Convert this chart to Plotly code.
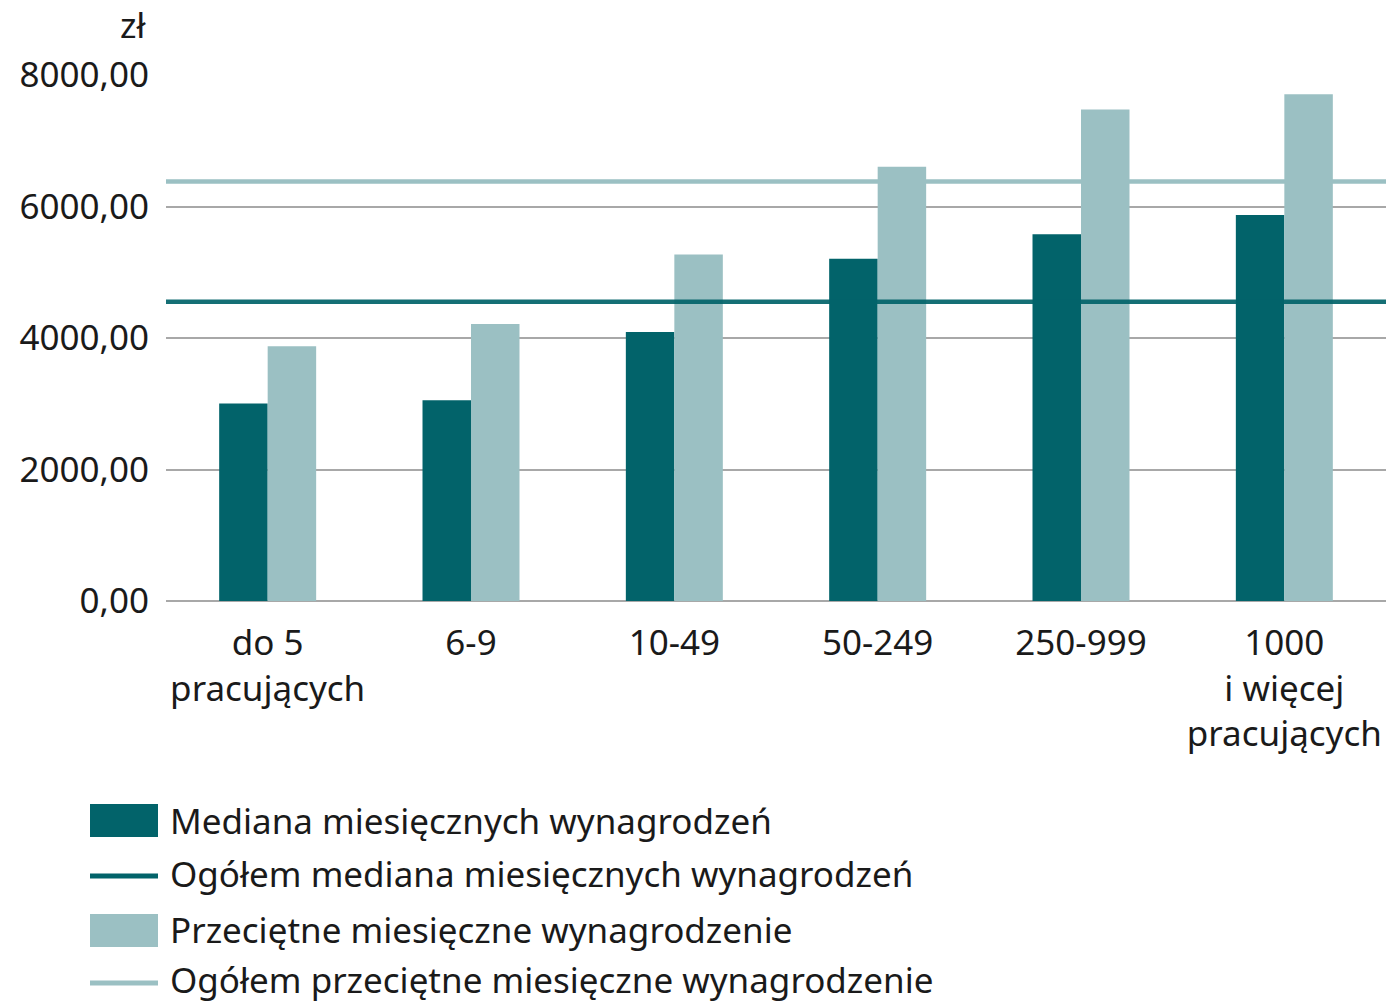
import plotly.graph_objects as go

# Wynagrodzenia według wielkości przedsiębiorstwa (zł)
categories = ["do 5<br>pracujących", "6-9", "10-49", "50-249", "250-999",
              "1000<br>i więcej<br>pracujących"]
median_values = [3003, 3053, 4091, 5205, 5579, 5872]
average_values = [3876, 4213, 5271, 6603, 7477, 7707]
median_total = 4552
average_total = 6382

series_names = [
    "Mediana miesięcznych wynagrodzeń",
    "Ogółem mediana miesięcznych wynagrodzeń",
    "Przeciętne miesięczne wynagrodzenie",
    "Ogółem przeciętne miesięczne wynagrodzenie",
]
y_ticks = [0, 2000, 4000, 6000, 8000]
y_tick_labels = ["0,00", "2000,00", "4000,00", "6000,00", "8000,00"]

DARK = "#02636a"
LIGHT = "#9bc0c3"
GRID = "#a8a8a8"
FONT = "Noto Sans"
FS = 35

W, H = 1386, 1002
M_L, M_R, M_T, M_B = 166, 0, 75, 401
PLOT_W = W - M_L - M_R
PLOT_H = H - M_T - M_B


def px(x):
    return (x - M_L) / PLOT_W


def py(y):
    return (H - M_B - y) / PLOT_H


fig = go.Figure()

# Overall reference lines span the full plot width on a hidden helper axis
fig.add_trace(go.Scatter(
    x=[0, 1], y=[average_total, average_total], xaxis="x2", mode="lines",
    line=dict(color=LIGHT, width=4.5), showlegend=False, hoverinfo="skip"))

fig.add_trace(go.Bar(x=categories, y=median_values, name=series_names[0],
                     marker=dict(color=DARK, line=dict(width=0))))
fig.add_trace(go.Bar(x=categories, y=average_values, name=series_names[2],
                     marker=dict(color=LIGHT, line=dict(width=0))))

fig.add_trace(go.Scatter(
    x=[0, 1], y=[median_total, median_total], xaxis="x2", mode="lines",
    line=dict(color=DARK, width=4.5), opacity=0.92,
    showlegend=False, hoverinfo="skip"))

# Legend drawn as swatches with text beside them
legend_rows = [
    (series_names[0], "rect", DARK, 820),
    (series_names[1], "line", DARK, 873),
    (series_names[2], "rect", LIGHT, 930),
    (series_names[3], "line", LIGHT, 980),
]
shapes = []
annotations = []
for name, kind, color, yc in legend_rows:
    if kind == "rect":
        shapes.append(dict(type="rect", xref="paper", yref="paper",
                           x0=px(90), x1=px(158), y0=py(yc + 17), y1=py(yc - 16),
                           fillcolor=color, line=dict(width=0)))
    else:
        shapes.append(dict(type="line", xref="paper", yref="paper",
                           x0=px(90), x1=px(158), y0=py(yc + 3), y1=py(yc + 3),
                           line=dict(color=color, width=5)))
    annotations.append(dict(text=name, xref="paper", yref="paper",
                            x=px(168), y=py(yc), xanchor="left", yanchor="middle",
                            showarrow=False, font=dict(size=FS, color="#1a1a1a",
                                                        family=FONT)))

annotations.append(dict(text="zł", xref="paper", yref="paper", x=px(148),
                        y=py(25), xanchor="right", yanchor="middle",
                        showarrow=False,
                        font=dict(size=FS, color="#1a1a1a", family=FONT)))

fig.update_layout(
    width=W, height=H,
    margin=dict(l=M_L, r=M_R, t=M_T, b=M_B, pad=0),
    paper_bgcolor="white", plot_bgcolor="white",
    barmode="group", bargap=0.523, bargroupgap=0,
    showlegend=False,
    font=dict(family=FONT, size=FS, color="#1a1a1a"),
    xaxis=dict(type="category", showgrid=False, showline=False, zeroline=False,
               ticks="", tickfont=dict(size=FS, family=FONT, color="#1a1a1a"),
               ticklabelstandoff=18),
    xaxis2=dict(range=[0, 1], overlaying="x", visible=False),
    yaxis=dict(range=[0, 8000], tickvals=y_ticks, ticktext=y_tick_labels,
               showgrid=True, gridcolor=GRID, gridwidth=2, zeroline=True,
               zerolinecolor=GRID, zerolinewidth=2, showline=False, ticks="",
               tickfont=dict(size=FS, family=FONT, color="#1a1a1a"),
               ticklabelstandoff=16),
    shapes=shapes,
    annotations=annotations,
)

fig.write_html("out.html")
